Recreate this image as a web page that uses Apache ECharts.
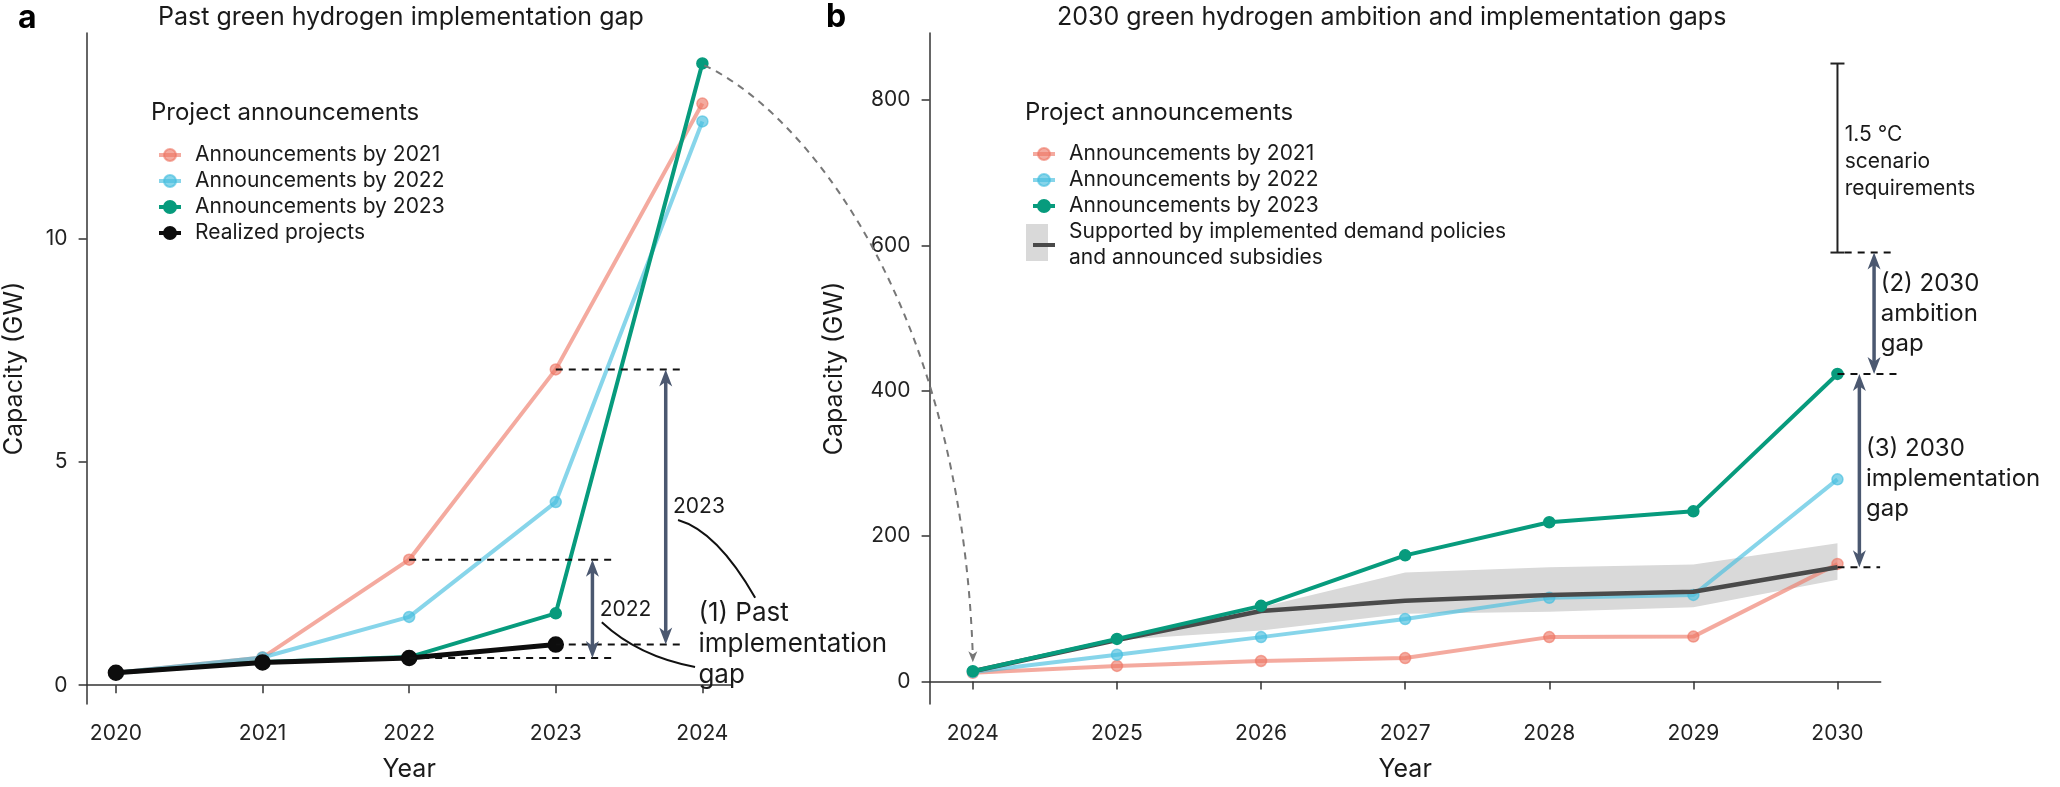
<!DOCTYPE html>
<html><head><meta charset="utf-8">
<script src="https://cdn.jsdelivr.net/npm/echarts@6/dist/echarts.min.js"></script>
<style>html,body{margin:0;padding:0;background:#fff}#c{width:2060px;height:787px}</style>
</head><body><div id="c"></div>
<script>
const FONT = 'Inter, "Noto Sans", sans-serif';

// ---- Panel a: past implementation gap (GW)
const yearsPast = [2020, 2021, 2022, 2023, 2024];
const pastAnn2021 = [0.28, 0.62, 2.81, 7.07, 13.02];
const pastAnn2022 = [0.28, 0.62, 1.53, 4.10, 12.62];
const pastAnn2023 = [0.28, 0.52, 0.63, 1.61, 13.92];
const pastRealized = [0.28, 0.51, 0.61, 0.91, null];
const pastYTicks = [0, 5, 10];

// ---- Panel b: 2030 ambition and implementation gaps (GW)
const yearsFuture = [2024, 2025, 2026, 2027, 2028, 2029, 2030];
const futAnn2021 = [12, 21.4, 28.2, 32.2, 61, 61.7, 161.7];
const futAnn2022 = [13, 36.8, 61, 85.8, 115, 119, 278];
const futAnn2023 = [14, 58.5, 104, 173.5, 219, 234, 423];
const futPolicy = [14, 57, 97, 111, 119, 123.5, 157];
const futPolicyLow = [14, 57, 70, 93, 96, 102, 140];
const futPolicyHigh = [14, 57, 102, 150, 157, 161, 190];
const futYTicks = [0, 200, 400, 600, 800];
const scenarioRange = [590, 850];   // 1.5 °C scenario requirement bar

const NAME21 = 'Announcements by 2021', NAME22 = 'Announcements by 2022', NAME23 = 'Announcements by 2023';
const NAME_REAL = 'Realized projects';
const NAME_POL = 'Supported by implemented demand policies\nand announced subsidies';

const C21 = 'rgba(238,118,100,0.62)';
const C22 = 'rgba(70,190,222,0.65)';
const C23 = '#079b7d';
const CBLK = '#0d0d0d';
const CPOL = '#4a4a4a';
const CBAND = '#d9d9d9';
const CSLATE = '#4b5870';
const TXT = '#1a1a1a';

const pairs = (xs, ys) => xs.map((x, i) => [x, ys[i]]).filter(p => p[1] !== null);

function lineSeries(name, xi, xs, ys, color, width, size, z) {
  return {
    name, type: 'line', xAxisIndex: xi, yAxisIndex: xi, data: pairs(xs, ys),
    symbol: 'circle', symbolSize: size, z,
    lineStyle: { color, width },
    itemStyle: { color, borderColor: color, borderWidth: 1.5 },
    emphasis: { disabled: true }, animation: false
  };
}

const axisCommon = {
  axisLine: { show: true, lineStyle: { color: '#333', width: 1.5 } },
  axisTick: { show: true, length: 8, lineStyle: { color: '#333', width: 1.5 } },
  splitLine: { show: false },
  nameTextStyle: { fontFamily: FONT, fontSize: 25, color: TXT },
};
const labelCommon = { fontFamily: FONT, fontSize: 21, color: '#222', margin: 19, formatter: v => String(v) };

const legendCommon = {
  orient: 'vertical', itemWidth: 22, itemHeight: 15, itemGap: 0, selectedMode: false,
  lineStyle: { width: 4 },
  textStyle: { fontFamily: FONT, fontSize: 21, color: TXT, lineHeight: 26, padding: [0, 0, 0, 9] }
};

const chart = echarts.init(document.getElementById('c'), null, { renderer: 'canvas' });

const option = {
  backgroundColor: '#fff',
  animation: false,
  grid: [
    { left: 86.6, top: 33, width: 645.1, height: 677.7 },
    { left: 929.6, top: 33, width: 951.1, height: 677.7 }
  ],
  xAxis: [
    Object.assign({}, axisCommon, {
      type: 'value', gridIndex: 0, min: 2019.8, max: 2024.2,
      name: 'Year', nameLocation: 'middle', nameGap: 53,
      axisLabel: Object.assign({}, labelCommon, { customValues: yearsPast }),
      axisTick: Object.assign({}, axisCommon.axisTick, { customValues: yearsPast })
    }),
    Object.assign({}, axisCommon, {
      type: 'value', gridIndex: 1, min: 2023.7, max: 2030.3,
      name: 'Year', nameLocation: 'middle', nameGap: 53,
      axisLabel: Object.assign({}, labelCommon, { customValues: yearsFuture }),
      axisTick: Object.assign({}, axisCommon.axisTick, { customValues: yearsFuture })
    })
  ],
  yAxis: [
    Object.assign({}, axisCommon, {
      type: 'value', gridIndex: 0, min: -0.42, max: 14.6,
      name: 'Capacity (GW)', nameLocation: 'middle', nameGap: 60,
      axisLabel: Object.assign({}, labelCommon, { customValues: pastYTicks }),
      axisTick: Object.assign({}, axisCommon.axisTick, { customValues: pastYTicks })
    }),
    Object.assign({}, axisCommon, {
      type: 'value', gridIndex: 1, min: -31, max: 892,
      name: 'Capacity (GW)', nameLocation: 'middle', nameGap: 83,
      axisLabel: Object.assign({}, labelCommon, { customValues: futYTicks }),
      axisTick: Object.assign({}, axisCommon.axisTick, { customValues: futYTicks })
    })
  ],
  legend: [
    Object.assign({}, legendCommon, {
      data: [NAME21, NAME22, NAME23, NAME_REAL], left: 152, top: 137
    }),
    Object.assign({}, legendCommon, {
      data: [NAME21, NAME22, NAME23,
        { name: NAME_POL, itemStyle: { color: 'rgba(0,0,0,0)', borderColor: 'rgba(0,0,0,0)', borderWidth: 0 } }],
      left: 1026, top: 136, z: 10
    })
  ],
  series: [
    lineSeries(NAME21, 0, yearsPast, pastAnn2021, C21, 4, 11, 2),
    lineSeries(NAME22, 0, yearsPast, pastAnn2022, C22, 4, 11, 3),
    lineSeries(NAME23, 0, yearsPast, pastAnn2023, C23, 4, 11, 4),
    lineSeries(NAME_REAL, 0, yearsPast, pastRealized, CBLK, 5, 15, 5),
    {
      name: 'policy range', type: 'custom', xAxisIndex: 1, yAxisIndex: 1, z: 1, silent: true,
      data: yearsFuture.map((x, i) => [x, futPolicyLow[i], futPolicyHigh[i]]),
      encode: { x: 0, y: [1, 2] },
      renderItem: (params, api) => {
        if (params.dataIndex !== 0) return { type: 'group', children: [] };
        const up = yearsFuture.map((x, i) => api.coord([x, futPolicyHigh[i]]));
        const lo = yearsFuture.map((x, i) => api.coord([x, futPolicyLow[i]])).reverse();
        return { type: 'polygon', shape: { points: up.concat(lo) }, style: { fill: CBAND } };
      },
      animation: false
    },
    lineSeries(NAME21, 1, yearsFuture, futAnn2021, C21, 4, 11, 2),
    lineSeries(NAME22, 1, yearsFuture, futAnn2022, C22, 4, 11, 3),
    {
      name: NAME_POL, type: 'line', xAxisIndex: 1, yAxisIndex: 1, z: 4,
      data: pairs(yearsFuture, futPolicy), symbol: 'none',
      lineStyle: { color: CPOL, width: 4.5 }, itemStyle: { color: CPOL },
      emphasis: { disabled: true }, animation: false
    },
    lineSeries(NAME23, 1, yearsFuture, futAnn2023, C23, 4, 11, 5)
  ]
};
chart.setOption(option);

// ---------- annotations (anchored in data space) ----------
const px = (g, x, y) => chart.convertToPixel({ gridIndex: g }, [x, y]);
const G = [];
function txt(x, y, text, size, opts) {
  G.push(Object.assign({
    type: 'text', x, y, z: 60, silent: true,
    style: Object.assign({ text, fontFamily: FONT, fontSize: size, fill: TXT, align: 'left', verticalAlign: 'middle' }, opts || {})
  }));
}
function dashed(g, x1, x2, y) {
  const a = px(g, x1, y), b = px(g, x2, y);
  G.push({ type: 'line', z: 50, silent: true, shape: { x1: a[0], y1: a[1], x2: b[0], y2: b[1] },
    style: { stroke: '#111', lineWidth: 2, lineDash: [7, 6] } });
}
function head(tx, ty, dir, color, len, half) { // dir -1 points up, +1 points down
  G.push({ type: 'polygon', z: 52, silent: true,
    shape: { points: [[tx, ty], [tx - half, ty - dir * len], [tx, ty - dir * len * 0.72], [tx + half, ty - dir * len]] },
    style: { fill: color } });
}
function dblArrow(g, x, yLo, yHi) {
  const a = px(g, x, yHi), b = px(g, x, yLo);
  const L = 17;
  G.push({ type: 'line', z: 51, silent: true, shape: { x1: a[0], y1: a[1] + L * 0.6, x2: b[0], y2: b[1] - L * 0.6 },
    style: { stroke: CSLATE, lineWidth: 3.5 } });
  head(a[0], a[1], -1, CSLATE, L, 6.5);
  head(b[0], b[1], 1, CSLATE, L, 6.5);
}
function quad(g, p0, p1, p2) {
  const a = px(g, p0[0], p0[1]), c = px(g, p1[0], p1[1]), b = px(g, p2[0], p2[1]);
  G.push({ type: 'bezierCurve', z: 50, silent: true,
    shape: { x1: a[0], y1: a[1], cpx1: c[0], cpy1: c[1], x2: b[0], y2: b[1] },
    style: { stroke: '#111', lineWidth: 2, fill: null } });
}

// Panel a
dashed(0, 2022, 2023.40, pastAnn2021[2]);
dashed(0, 2022, 2023.40, pastRealized[2]);
dashed(0, 2023, 2023.86, pastAnn2021[3]);
dashed(0, 2023, 2023.86, pastRealized[3]);
dblArrow(0, 2023.25, pastRealized[2], pastAnn2021[2]);
dblArrow(0, 2023.75, pastRealized[3], pastAnn2021[3]);
let p = px(0, 2023.80, 3.99); txt(p[0], p[1], '2023', 21);
p = px(0, 2023.30, 1.70); txt(p[0], p[1], '2022', 21);
quad(0, [2023.834, 3.70], [2024.10, 3.45], [2024.36, 1.96]);
quad(0, [2023.314, 1.41], [2023.564, 0.645], [2023.95, 0.41]);
p = px(0, 2023.973, 0.925); txt(p[0], p[1], '(1) Past\nimplementation\ngap', 26, { lineHeight: 31 });

// Panel b
{
  const t = px(1, 2030, scenarioRange[1]), b = px(1, 2030, scenarioRange[0]);
  G.push({ type: 'line', z: 50, silent: true, shape: { x1: t[0], y1: t[1], x2: b[0], y2: b[1] }, style: { stroke: '#222', lineWidth: 2 } });
  G.push({ type: 'line', z: 50, silent: true, shape: { x1: t[0] - 7, y1: t[1], x2: t[0] + 7, y2: t[1] }, style: { stroke: '#222', lineWidth: 2 } });
  G.push({ type: 'line', z: 50, silent: true, shape: { x1: b[0] - 7, y1: b[1], x2: b[0] + 7, y2: b[1] }, style: { stroke: '#222', lineWidth: 2 } });
}
dashed(1, 2030.05, 2030.41, scenarioRange[0]);
dashed(1, 2030, 2030.41, futAnn2023[6]);
dashed(1, 2030, 2030.296, futPolicy[6]);
dblArrow(1, 2030.254, futAnn2023[6], scenarioRange[0]);
dblArrow(1, 2030.152, futPolicy[6], futAnn2023[6]);
p = px(1, 2030.05, 715); txt(p[0], p[1], '1.5 °C\nscenario\nrequirements', 21, { lineHeight: 27 });
p = px(1, 2030.30, 506); txt(p[0], p[1], '(2) 2030\nambition\ngap', 24, { lineHeight: 30 });
p = px(1, 2030.198, 279); txt(p[0], p[1], '(3) 2030\nimplementation\ngap', 24, { lineHeight: 30 });

// dashed link from panel a 2024 value to panel b 2024 start
{
  const a = px(0, 2024, pastAnn2023[4]);
  const b = px(1, 2024, futAnn2023[0]);
  const s = [a[0] + 2, a[1] + 2], e = [b[0], b[1] - 9];
  const dx = e[0] - s[0], dy = e[1] - s[1];
  G.push({ type: 'bezierCurve', z: 50, silent: true,
    shape: { x1: s[0], y1: s[1], cpx1: s[0] + 0.36 * dx, cpy1: s[1] + 0.075 * dy, cpx2: s[0] + 0.955 * dx, cpy2: s[1] + 0.39 * dy, x2: e[0], y2: e[1] - 6 },
    style: { stroke: '#777', lineWidth: 2, lineDash: [7, 6], fill: null } });
  head(e[0], e[1], 1, '#777', 11, 4.5);
}

// legends: titles + band swatch
txt(151, 113, 'Project announcements', 24);
txt(1025, 113, 'Project announcements', 24);
G.push({ type: 'rect', z: 0, silent: true, shape: { x: 1026, y: 224, width: 22, height: 37 }, style: { fill: CBAND } });

// panel titles
txt(18, 18, 'a', 32, { fontWeight: 'bold', fill: '#000' });
txt(158, 17, 'Past green hydrogen implementation gap', 25);
txt(826, 17, 'b', 32, { fontWeight: 'bold', fill: '#000' });
txt(1057, 17, '2030 green hydrogen ambition and implementation gaps', 25);

chart.setOption({ graphic: { elements: G } });
</script>
</body></html>
